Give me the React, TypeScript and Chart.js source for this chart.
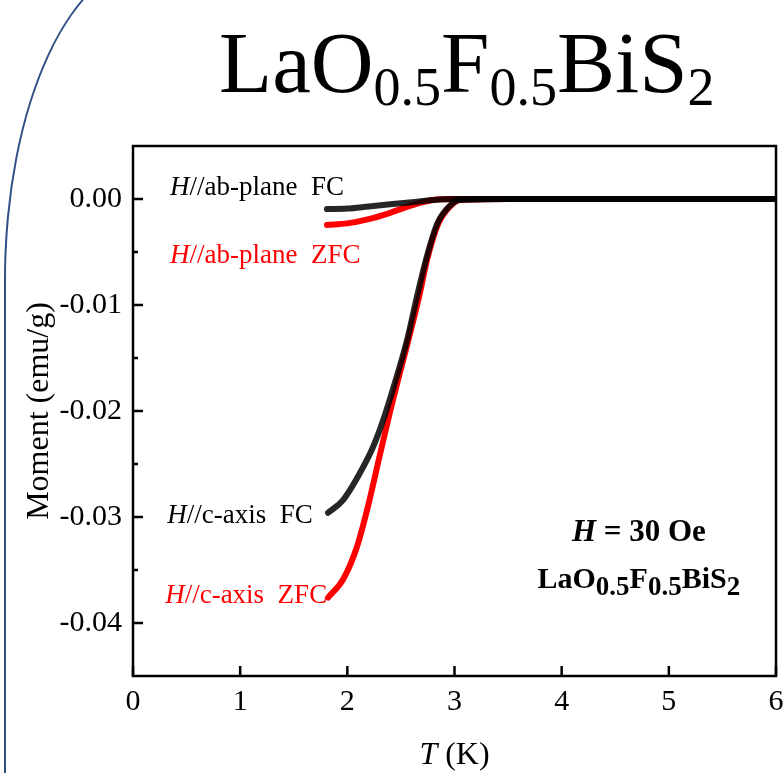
import React, { useEffect, useRef } from 'react';
import { Chart, registerables } from 'chart.js';

Chart.register(...registerables);

const SERIF = "'Liberation Serif', 'Times New Roman', serif";

// ---- data (T in K, moment in emu/g) ----
const abFC_T = [1.81, 2.0, 2.2, 2.4, 2.6, 2.8, 3.0, 3.5, 4.0, 4.5, 5.0, 5.5, 6.0];
const abFC_M = [-0.00095, -0.0009, -0.0007, -0.0005, -0.0003, -0.0001, 0, 0, 0, 0, 0, 0, 0];

const abZFC_T = [1.81, 2.0, 2.2, 2.4, 2.6, 2.8, 3.0, 3.5, 4.0, 4.5, 5.0, 5.5, 6.0];
const abZFC_M = [-0.00245, -0.0023, -0.0019, -0.0013, -0.0006, -0.0001, 0, 0, 0, 0, 0, 0, 0];

const cFC_T = [1.82, 1.96, 2.12, 2.24, 2.33, 2.43, 2.56, 2.65, 2.74, 2.84, 2.96, 3.05, 3.5, 4.0, 4.5, 5.0, 5.5, 6.0];
const cFC_M = [-0.0296, -0.0284, -0.0258, -0.0234, -0.021, -0.0178, -0.0132, -0.0092, -0.0055, -0.0023, -0.0006, -0.0001, 0, 0, 0, 0, 0, 0];

const cZFC_T = [1.82, 1.96, 2.09, 2.19, 2.3, 2.4, 2.47, 2.57, 2.67, 2.75, 2.85, 2.97, 3.05, 3.5, 4.0, 4.5, 5.0, 5.5, 6.0];
const cZFC_M = [-0.0376, -0.0359, -0.0328, -0.0291, -0.0243, -0.02, -0.0172, -0.0133, -0.0092, -0.0055, -0.0023, -0.0006, -0.0001, 0, 0, 0, 0, 0, 0];

const X_TICKS = [0, 1, 2, 3, 4, 5, 6];
const Y_TICKS = [0, -0.01, -0.02, -0.03, -0.04];
const Y_MINOR = [-0.005, -0.015, -0.025, -0.035];

const X_MIN = 0;
const X_MAX = 6;
const Y_MIN = -0.045;
const Y_MAX = 0.005;

const TITLE = 'LaO0.5F0.5BiS2';

type Part = { t: string; font: string; color?: string; dy?: number };

function drawRich(ctx: CanvasRenderingContext2D, parts: Part[], x: number, y: number, align: 'left' | 'center') {
  ctx.save();
  ctx.textBaseline = 'alphabetic';
  ctx.textAlign = 'left';
  let total = 0;
  const widths = parts.map((p) => {
    ctx.font = p.font;
    const w = ctx.measureText(p.t).width;
    total += w;
    return w;
  });
  let cx = align === 'center' ? x - total / 2 : x;
  parts.forEach((p, i) => {
    ctx.font = p.font;
    ctx.fillStyle = p.color || '#000';
    ctx.fillText(p.t, cx, y + (p.dy || 0));
    cx += widths[i];
  });
  ctx.restore();
}

const toXY = (T: number[], M: number[]) => T.map((t, i) => ({ x: t, y: M[i] }));

const decorPlugin = {
  id: 'decor',
  afterDraw(chart: any) {
    const ctx: CanvasRenderingContext2D = chart.ctx;
    const { left, right, top, bottom } = chart.chartArea;
    const xs = chart.scales.x;
    const ys = chart.scales.y;
    ctx.save();
    ctx.strokeStyle = '#000';
    ctx.lineWidth = 2.5;
    ctx.beginPath();
    X_TICKS.forEach((v) => {
      const px = xs.getPixelForValue(v);
      ctx.moveTo(px, bottom);
      ctx.lineTo(px, bottom - 10);
    });
    Y_TICKS.forEach((v) => {
      const py = ys.getPixelForValue(v);
      ctx.moveTo(left, py);
      ctx.lineTo(left + 10, py);
    });
    Y_MINOR.forEach((v) => {
      const py = ys.getPixelForValue(v);
      ctx.moveTo(left, py);
      ctx.lineTo(left + 5, py);
    });
    ctx.stroke();
    ctx.lineWidth = 2.5;
    ctx.strokeRect(left, top, right - left, bottom - top);
    ctx.restore();

    const f = (s: number, style = '', weight = '') => `${style} ${weight} ${s}px ${SERIF}`.trim();
    const ann = (label: string, tag: string, color: string, xv: number, yv: number) => {
      drawRich(
        ctx,
        [
          { t: 'H', font: f(27, 'italic'), color },
          { t: '//' + label + '  ' + tag, font: f(27), color },
        ],
        xs.getPixelForValue(xv),
        ys.getPixelForValue(yv),
        'left'
      );
    };
    ann('ab-plane', 'FC', '#000', 0.345, 0.0004);
    ann('ab-plane', 'ZFC', '#ff0000', 0.345, -0.006);
    ann('c-axis', 'FC', '#000', 0.32, -0.0306);
    ann('c-axis', 'ZFC', '#ff0000', 0.3, -0.0381);

    const bx = xs.getPixelForValue(4.72);
    drawRich(
      ctx,
      [
        { t: 'H', font: f(31, 'italic', 'bold') },
        { t: ' = 30 Oe', font: f(31, '', 'bold') },
      ],
      bx,
      ys.getPixelForValue(-0.0323),
      'center'
    );
    drawRich(
      ctx,
      [
        { t: 'LaO', font: f(30, '', 'bold') },
        { t: '0.5', font: f(27, '', 'bold'), dy: 7 },
        { t: 'F', font: f(30, '', 'bold') },
        { t: '0.5', font: f(27, '', 'bold'), dy: 7 },
        { t: 'BiS', font: f(30, '', 'bold') },
        { t: '2', font: f(27, '', 'bold'), dy: 7 },
      ],
      bx,
      ys.getPixelForValue(-0.0367),
      'center'
    );

    drawRich(
      ctx,
      [
        { t: 'T', font: f(32, 'italic') },
        { t: ' (K)', font: f(32) },
      ],
      (left + right) / 2,
      764,
      'center'
    );
  },
};

export default function App() {
  const ref = useRef<HTMLCanvasElement | null>(null);

  useEffect(() => {
    if (!ref.current) return;
    const black = 'rgba(0,0,0,0.85)';
    const red = '#ff0000';
    const common = {
      showLine: true,
      pointRadius: 0,
      borderWidth: 6,
      borderCapStyle: 'round' as const,
      borderJoinStyle: 'round' as const,
      cubicInterpolationMode: 'monotone' as const,
      fill: false,
    };
    const chart = new Chart(ref.current, {
      type: 'scatter',
      data: {
        // dataset 0 is drawn on top
        datasets: [
          { ...common, label: 'H//ab-plane FC', data: toXY(abFC_T, abFC_M), borderColor: black, backgroundColor: black },
          { ...common, label: 'H//c-axis FC', data: toXY(cFC_T, cFC_M), borderColor: black, backgroundColor: black },
          { ...common, label: 'H//ab-plane ZFC', data: toXY(abZFC_T, abZFC_M), borderColor: red, backgroundColor: red },
          { ...common, label: 'H//c-axis ZFC', data: toXY(cZFC_T, cZFC_M), borderColor: red, backgroundColor: red },
        ],
      },
      options: {
        animation: false,
        responsive: false,
        maintainAspectRatio: false,
        layout: { padding: { top: 146, right: 7, bottom: 0, left: 0 } },
        plugins: { legend: { display: false }, tooltip: { enabled: false }, title: { display: false } },
        scales: {
          x: {
            type: 'linear',
            min: X_MIN,
            max: X_MAX,
            grid: { display: false, drawTicks: false },
            border: { display: false },
            afterBuildTicks: (s: any) => {
              s.ticks = X_TICKS.map((v) => ({ value: v }));
            },
            afterFit: (s: any) => {
              s.height = 97;
              s.paddingLeft = 0;
              s.paddingRight = 0;
            },
            ticks: {
              color: '#000',
              padding: 8,
              maxRotation: 0,
              autoSkip: false,
              font: { family: SERIF, size: 30 },
              callback: (v: any) => String(v),
            },
          },
          y: {
            type: 'linear',
            min: Y_MIN,
            max: Y_MAX,
            grid: { display: false, drawTicks: false },
            border: { display: false },
            afterBuildTicks: (s: any) => {
              s.ticks = Y_TICKS.map((v) => ({ value: v }));
            },
            afterFit: (s: any) => {
              s.width = 133;
              s.paddingTop = 0;
              s.paddingBottom = 0;
            },
            ticks: {
              color: '#000',
              padding: 11,
              autoSkip: false,
              font: { family: SERIF, size: 30 },
              callback: (v: any) => Number(v).toFixed(2),
            },
            title: {
              display: true,
              text: 'Moment (emu/g)',
              color: '#000',
              font: { family: SERIF, size: 32, weight: 'normal' },
              padding: { top: 20, bottom: 0 },
            },
          },
        },
      },
      plugins: [decorPlugin],
    });
    return () => chart.destroy();
  }, []);

  const sub: React.CSSProperties = { fontSize: 54, position: 'relative', top: 13 };

  return (
    <div
      style={{
        position: 'fixed',
        left: 0,
        top: 0,
        width: 783,
        height: 773,
        background: '#fff',
        overflow: 'hidden',
      }}
    >
      <div
        style={{
          position: 'absolute',
          left: 4,
          top: -40,
          width: 1000,
          height: 1200,
          borderLeft: '2px solid #2F4F86',
          borderTop: '2px solid #2F4F86',
          borderTopLeftRadius: '150px 320px',
          boxSizing: 'border-box',
        }}
      />
      <canvas
        ref={ref}
        width={783}
        height={773}
        style={{ position: 'absolute', left: 0, top: 0, width: 783, height: 773 }}
      />
      <div
        aria-label={TITLE}
        style={{
          position: 'absolute',
          left: 219,
          top: 19,
          fontFamily: SERIF,
          fontSize: 87,
          lineHeight: '87px',
          whiteSpace: 'nowrap',
          color: '#000',
        }}
      >
        LaO<span style={sub}>0.5</span>F<span style={sub}>0.5</span>BiS<span style={sub}>2</span>
      </div>
    </div>
  );
}
